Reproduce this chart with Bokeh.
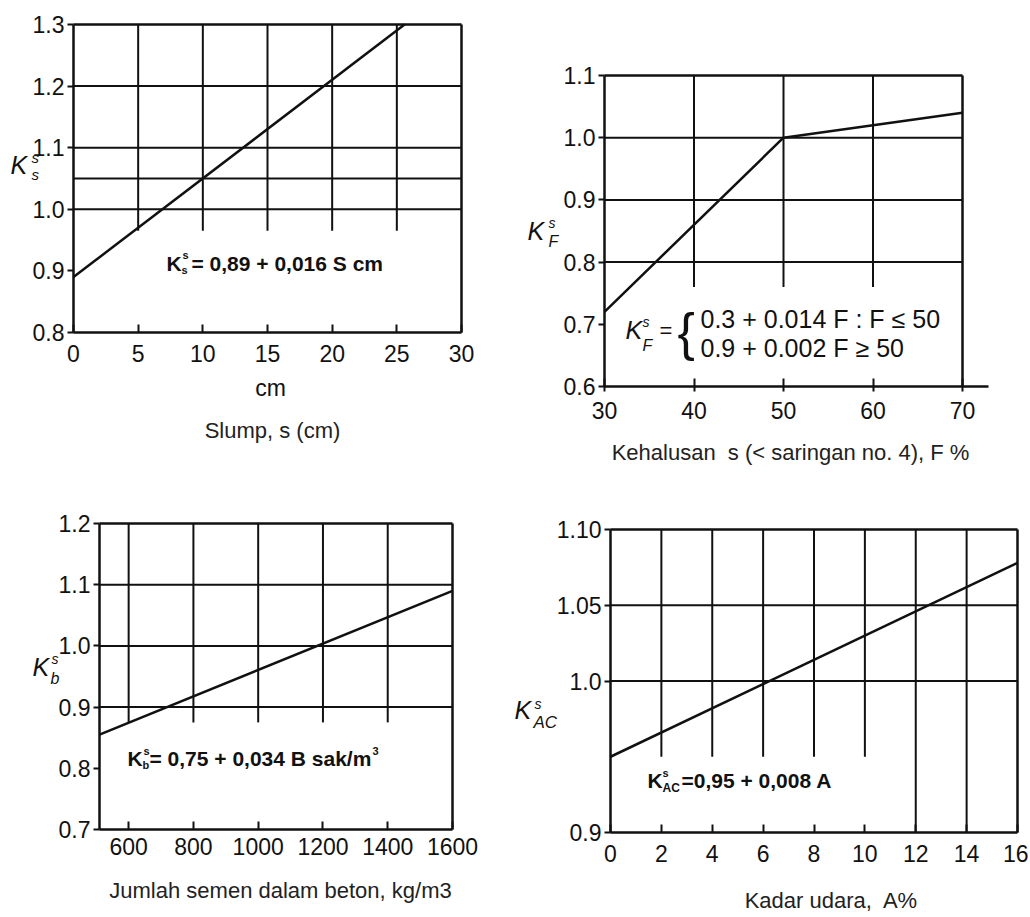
from bokeh.plotting import figure
from bokeh.models import Range1d, FixedTicker, Label
from bokeh.layouts import column, row
from bokeh.embed import file_html
from bokeh.resources import INLINE

# ---------------- data ----------------
# Slump
slump_x = [0, 25.6]
slump_k = [0.89, 1.30]
slump_xticks = [0, 5, 10, 15, 20, 25, 30]
slump_yticks = [0.8, 0.9, 1.0, 1.1, 1.2, 1.3]
slump_ylabels = ["0.8", "0.9", "1.0", "1.1", "1.2", "1.3"]
slump_hgrid = [1.0, 1.05, 1.1, 1.2]
slump_vgrid = [5, 10, 15, 20, 25]
slump_vgrid_stop = 0.965

# Fineness
fine_x = [30, 50, 70]
fine_k = [0.72, 1.00, 1.04]
fine_xticks = [30, 40, 50, 60, 70]
fine_yticks = [0.6, 0.7, 0.8, 0.9, 1.0, 1.1]
fine_ylabels = ["0.6", "0.7", "0.8", "0.9", "1.0", "1.1"]
fine_hgrid = [0.8, 0.9, 1.0]
fine_vgrid = [40, 50, 60]
fine_vgrid_stop = 0.76
fine_axis_end = 72.9

# Cement content
cement_x = [510, 1600]
cement_k = [0.855, 1.09]
cement_xticks = [600, 800, 1000, 1200, 1400, 1600]
cement_axis_start = 510
cement_yticks = [0.7, 0.8, 0.9, 1.0, 1.1, 1.2]
cement_ylabels = ["0.7", "0.8", "0.9", "1.0", "1.1", "1.2"]
cement_hgrid = [0.9, 1.0, 1.1]
cement_vgrid = [600, 800, 1000, 1200, 1400]
cement_vgrid_stop = 0.875

# Air content
air_x = [0, 16]
air_k = [0.95, 1.078]
air_xticks = [0, 2, 4, 6, 8, 10, 12, 14, 16]
air_yticks = [0.9, 1.0, 1.05, 1.1]
air_ylabels = ["0.9", "1.0", "1.05", "1.10"]
air_hgrid = [1.0, 1.05]
air_vgrid_short = [2, 4, 6, 8, 10]
air_vgrid_full = [12, 14]
air_vgrid_stop = 0.95

INK = "#111111"
TXT = "#222222"
FONT = "Liberation Sans"


class Geo:
    """maps page pixels to data values for one panel"""
    def __init__(self, xa, xb, pxa, pxb, ya, yb, pya, pyb, canvas):
        self.xa, self.xb, self.pxa, self.pxb = xa, xb, pxa, pxb
        self.ya, self.yb, self.pya, self.pyb = ya, yb, pya, pyb
        self.cx0, self.cy0, self.cx1, self.cy1 = canvas

    def X(self, px):
        return self.xa + (px - self.pxa) * (self.xb - self.xa) / (self.pxb - self.pxa)

    def Y(self, py):
        return self.ya + (py - self.pya) * (self.yb - self.ya) / (self.pyb - self.pya)


def make(g, xticks, yticks, ylabels, xb, yb, box_x, standoff):
    p = figure(width=g.cx1 - g.cx0, height=g.cy1 - g.cy0,
               x_range=Range1d(g.X(g.cx0), g.X(g.cx1)),
               y_range=Range1d(g.Y(g.cy1), g.Y(g.cy0)),
               output_backend="svg", toolbar_location=None, title=None,
               min_border=0, min_border_left=0, min_border_right=0,
               min_border_top=0, min_border_bottom=0)
    p.background_fill_color = "white"
    p.border_fill_color = "white"
    p.outline_line_color = None
    p.grid.visible = False
    p.xaxis.ticker = FixedTicker(ticks=xticks)
    p.yaxis.ticker = FixedTicker(ticks=yticks)
    p.yaxis.major_label_overrides = dict(zip(yticks, ylabels))
    p.xaxis.fixed_location = yb[0]
    p.xaxis.bounds = xb
    p.yaxis.fixed_location = xb[0]
    p.yaxis.bounds = yb
    for ax in (p.xaxis[0], p.yaxis[0]):
        ax.axis_line_color = INK
        ax.axis_line_width = 2.5
        ax.major_tick_line_color = INK
        ax.major_tick_line_width = 2
        ax.minor_tick_line_color = None
        ax.major_label_text_font = FONT
        ax.major_label_text_font_size = "23px"
        ax.major_label_text_color = INK
    p.xaxis.major_tick_in = 8
    p.xaxis.major_tick_out = 0
    p.yaxis.major_tick_in = 0
    p.yaxis.major_tick_out = 6
    p.xaxis.major_label_standoff = standoff
    p.yaxis.major_label_standoff = 3
    # box: top and right edges
    p.segment(x0=[box_x[0], box_x[1]], y0=[yb[1], yb[0]],
              x1=[box_x[1], box_x[1]], y1=[yb[1], yb[1]],
              line_color=INK, line_width=2.5)
    return p


def hgrid(p, xs, ys):
    p.segment(x0=[xs[0]] * len(ys), y0=ys, x1=[xs[1]] * len(ys), y1=ys,
              line_color=INK, line_width=2)


def vgrid(p, xs, ys):
    p.segment(x0=xs, y0=[ys[0]] * len(xs), x1=xs, y1=[ys[1]] * len(xs),
              line_color=INK, line_width=2)


def placer(p, g):
    def put(px, py, text, size, style="normal", align="left", color=INK):
        p.add_layout(Label(x=g.X(px), y=g.Y(py), text=text, text_font=FONT,
                           text_font_size=f"{size}px", text_font_style=style,
                           text_align=align, text_baseline="middle",
                           text_color=color))
    return put


# ---------------- panel 1 : slump ----------------
g1 = Geo(0, 30, 73, 461, 0.8, 1.3, 332, 24, (0, 0, 510, 470))
s_box = (slump_xticks[0], slump_xticks[-1])
p1 = make(g1, slump_xticks, slump_yticks, slump_ylabels,
          s_box, (slump_yticks[0], slump_yticks[-1]), s_box, 12)
hgrid(p1, s_box, slump_hgrid)
vgrid(p1, slump_vgrid, (slump_vgrid_stop, slump_yticks[-1]))
p1.line(slump_x, slump_k, line_color=INK, line_width=2.5)
put1 = placer(p1, g1)
put1(10, 164, "K", 25, "italic")
put1(31, 157, "s", 15, "italic")
put1(31, 174, "s", 15, "italic")
put1(166, 263, "K", 21, "bold")
put1(181, 269, "s", 11, "bold")
put1(182, 254, "s", 11, "bold")
put1(191, 263, "= 0,89 + 0,016 S cm", 21, "bold")
put1(270, 387, "cm", 23, align="center")
put1(272, 430, "Slump, s (cm)", 22, align="center", color=TXT)

# ---------------- panel 2 : fineness ----------------
g2 = Geo(30, 70, 604, 962, 0.6, 1.1, 386, 75, (510, 0, 1028, 470))
f_box = (fine_xticks[0], fine_xticks[-1])
p2 = make(g2, fine_xticks, fine_yticks, fine_ylabels,
          (fine_xticks[0], fine_axis_end), (fine_yticks[0], fine_yticks[-1]), f_box, 10)
p2.xaxis.major_tick_out = 5
hgrid(p2, f_box, fine_hgrid)
vgrid(p2, fine_vgrid, (fine_vgrid_stop, fine_yticks[-1]))
p2.line(fine_x, fine_k, line_color=INK, line_width=2.5)
put2 = placer(p2, g2)
put2(527, 230, "K", 25, "italic")
put2(548, 222, "s", 14, "italic")
put2(548, 241, "F", 16, "italic")
put2(625, 329, "K", 25, "italic")
put2(642, 321, "s", 14, "italic")
put2(642, 345, "F", 16, "italic")
put2(659, 330, "=", 22)
put2(677, 331, "{", 52)
put2(700, 318, "0.3 + 0.014 F : F \u2264 50", 25)
put2(700, 347, "0.9 + 0.002 F \u2265 50", 25)
put2(790, 452, "Kehalusan\u00a0 s (< saringan no. 4), F %", 22, align="center", color=TXT)

# ---------------- panel 3 : cement ----------------
g3 = Geo(510, 1600, 99, 452, 0.7, 1.2, 829, 523, (0, 470, 510, 916))
c_box = (cement_axis_start, cement_xticks[-1])
p3 = make(g3, cement_xticks, cement_yticks, cement_ylabels,
          c_box, (cement_yticks[0], cement_yticks[-1]), c_box, 8)
hgrid(p3, c_box, cement_hgrid)
vgrid(p3, cement_vgrid, (cement_vgrid_stop, cement_yticks[-1]))
p3.line(cement_x, cement_k, line_color=INK, line_width=2.5)
put3 = placer(p3, g3)
put3(32, 666, "K", 25, "italic")
put3(51, 658, "s", 14, "italic")
put3(50, 678, "b", 16, "italic")
put3(127, 758, "K", 21, "bold")
put3(142, 764, "b", 11, "bold")
put3(143, 750, "s", 11, "bold")
put3(149, 758, "= 0,75 + 0,034 B sak/m", 21, "bold")
put3(372, 750, "3", 11, "bold")
put3(280, 890, "Jumlah semen dalam beton, kg/m3", 22, align="center", color=TXT)

# ---------------- panel 4 : air ----------------
g4 = Geo(0, 16, 610, 1017, 0.9, 1.1, 832, 529, (510, 470, 1028, 916))
a_box = (air_xticks[0], air_xticks[-1])
p4 = make(g4, air_xticks, air_yticks, air_ylabels,
          a_box, (air_yticks[0], air_yticks[-1]), a_box, 12)
hgrid(p4, a_box, air_hgrid)
vgrid(p4, air_vgrid_short, (air_vgrid_stop, air_yticks[-1]))
vgrid(p4, air_vgrid_full, (air_yticks[0], air_yticks[-1]))
p4.line(air_x, air_k, line_color=INK, line_width=2.5)
put4 = placer(p4, g4)
put4(514, 709, "K", 25, "italic")
put4(534, 703, "s", 14, "italic")
put4(533, 722, "AC", 17, "italic")
put4(647, 780, "K", 21, "bold")
put4(662, 772, "s", 11, "bold")
put4(662, 787, "AC", 12, "bold")
put4(681, 780, "=0,95 + 0,008 A", 21, "bold")
put4(831, 900, "Kadar udara,\u00a0 A%", 22, align="center", color=TXT)

layout = column(row(p1, p2), row(p3, p4))
open("out.html", "w").write(file_html(layout, INLINE))
